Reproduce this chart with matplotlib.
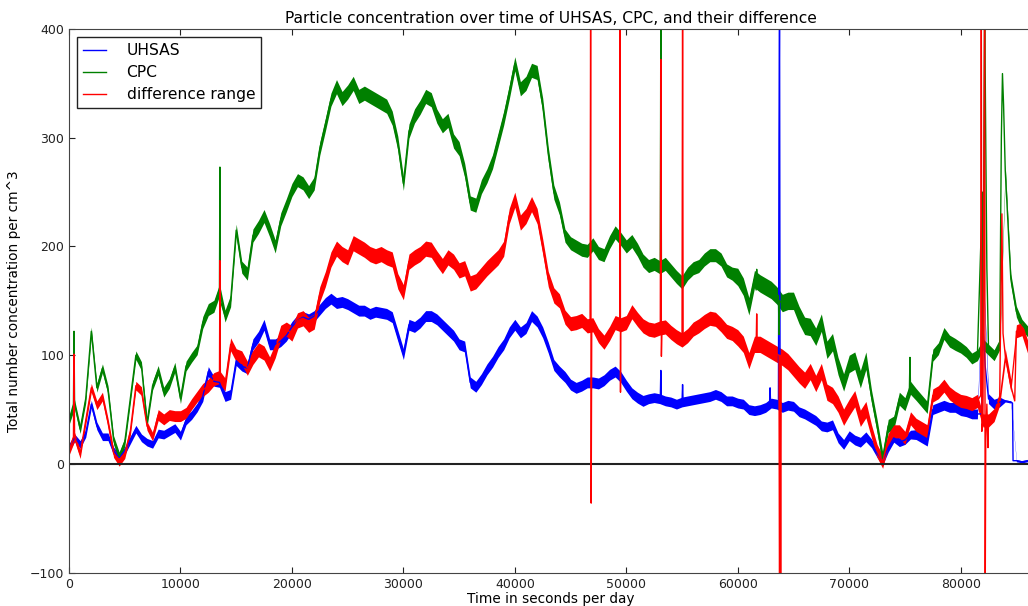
import numpy as np
import matplotlib
matplotlib.use("Agg")
import matplotlib.pyplot as plt

# 500 s sampling, 0 .. 86000 s
step = 500

uhsas = [15, 24, 18, 28, 55, 35, 25, 25, 12, 6,
         12, 22, 32, 24, 20, 18, 28, 27, 30, 33,
         26, 40, 45, 52, 62, 85, 76, 75, 62, 64,
         95, 90, 88, 110, 117, 128, 110, 110, 113, 118,
         126, 132, 135, 133, 136, 142, 148, 152, 148, 149,
         147, 144, 141, 141, 138, 140, 139, 138, 135, 118,
         101, 128, 126, 130, 136, 136, 133, 128, 123, 118,
         110, 108, 75, 71, 78, 87, 94, 103, 110, 121,
         128, 121, 125, 136, 131, 121, 107, 91, 85, 80,
         73, 70, 72, 75, 75, 74, 77, 82, 85, 80,
         72, 65, 61, 58, 60, 61, 60, 58, 57, 55,
         57, 58, 59, 60, 61, 62, 64, 62, 58, 58,
         56, 55, 50, 49, 50, 52, 56, 55, 52, 54,
         53, 48, 46, 43, 40, 35, 34, 36, 24, 18,
         26, 22, 20, 25, 19, 10, 3, 15, 24, 20,
         22, 27, 27, 24, 21, 50, 52, 54, 52, 52,
         49, 48, 46, 46, 180, 60, 55, 57, 58, 57,
         3, 2, 3]

cpc = [40, 55, 32, 60, 122, 70, 88, 68, 22, 7,
       20, 60, 100, 90, 38, 72, 86, 66, 74, 89,
       60, 90, 98, 105, 130, 142, 145, 160, 136, 150,
       215, 181, 175, 210, 218, 228, 215, 200, 225, 238,
       252, 261, 258, 250, 258, 290, 312, 335, 347, 336,
       342, 350, 338, 341, 338, 335, 332, 329, 318, 295,
       258, 306, 320, 328, 338, 335, 320, 311, 316, 297,
       290, 270, 240, 238, 255, 265, 278, 298, 318, 342,
       368, 345, 350, 362, 360, 330, 285, 250, 235, 210,
       203, 200, 197, 196, 202, 194, 192, 204, 213, 207,
       200, 205, 197, 187, 182, 184, 181, 184, 178, 172,
       167, 175, 180, 182, 188, 192, 192, 188, 178, 175,
       172, 163, 145, 170, 166, 163, 160, 155, 148, 150,
       150, 137, 127, 126, 117, 130, 105, 112, 90, 75,
       92, 95, 78, 95, 62, 35, 5, 35, 38, 60,
       55, 70, 64, 58, 52, 100, 106, 120, 113, 110,
       107, 103, 97, 100, 110, 105, 100, 110, 270, 170,
       140, 128, 122]

diff = [12, 25, 9, 40, 70, 54, 62, 38, 10, 2,
        9, 30, 72, 67, 35, 25, 45, 41, 45, 44,
        44, 47, 55, 62, 68, 72, 78, 80, 73, 110,
        100, 98, 88, 98, 105, 102, 92, 104, 121, 124,
        120, 132, 134, 128, 131, 156, 170, 188, 198, 193,
        190, 203, 200, 197, 193, 191, 193, 190, 188, 168,
        158, 186, 190, 193, 198, 197, 189, 182, 190, 186,
        178, 180, 166, 168, 174, 180, 185, 190, 198, 228,
        243, 222, 228, 239, 228, 200, 170, 155, 150, 135,
        129, 130, 132, 127, 128, 118, 112, 120, 130, 128,
        130, 140, 133, 127, 124, 123, 125, 126, 121, 117,
        114, 118, 124, 127, 131, 134, 133, 128, 122, 120,
        116, 110, 95, 110, 110, 107, 104, 101, 98, 94,
        88, 82, 77, 85, 74, 85, 66, 63, 55, 43,
        52, 60, 42, 50, 30, 12, 2, 22, 30, 30,
        24, 42, 36, 33, 30, 63, 66, 72, 65, 61,
        58, 57, 55, 58, 40, 40, 45, 60, 100, 72,
        122, 124, 108]

# short glitches in the record (time, value), with the level just around them
uhsas_spike_t = [53050, 53100, 53150, 55000, 55050, 55100, 62850, 62900, 62950,
                 63650, 63700, 63750, 63800, 81900, 81950, 82050, 82200, 84650, 84700]
uhsas_spike_v = [60, 86, 59, 57, 73, 57, 55, 70, 55,
                 55, 298, 430, 53, 46, 211, 120, 90, 56, 3]
cpc_spike_t = [400, 450, 13540, 13580, 53050, 53100, 53150, 61650, 61700, 61750,
               63650, 63700, 63750, 75400, 75450, 75550,
               81950, 82150, 82250, 82350, 83650, 83750, 83850]
cpc_spike_v = [55, 122, 273, 150, 182, 430, 183, 160, 179, 165,
               155, 119, 150, 68, 98, 66,
               250, 430, 297, 180, 300, 359, 330]
diff_spike_t = [400, 450, 13540, 13580, 46750, 46800, 46850, 46900,
                49420, 49450, 49480, 53050, 53100, 53150, 53200,
                55050, 55100, 61650, 61700, 61750,
                63700, 63750, 63800, 63850, 63900,
                81800, 81850, 81900, 82150, 82200, 82250, 82350, 82450,
                83700, 83800, 84850]
diff_spike_v = [25, 101, 187, 78, 128, 430, -36, 128,
                130, 430, 66, 125, 372, 99, 126,
                430, 115, 108, 138, 108,
                100, -150, 100, -150, 98,
                63, 430, 30, 430, -130, 20, 55, 15,
                230, 120, 58]

# half width of the 1 Hz noise band, per 4000 s block
uhsas_noise = [3.5, 3.5, 4, 4.5, 5, 5, 5, 5, 5, 5, 5, 5, 5, 4.5, 4.5, 4.5, 4.5, 4.5, 4, 4.5, 4.5, 1]
cpc_noise = [4, 4, 4.5, 5.5, 6, 6, 6.5, 6.5, 6.5, 6.5, 6.5, 6, 6, 6, 6, 8, 8, 8, 6, 5.5, 5, 5]
diff_noise = [4, 4, 5, 6, 6.5, 7, 7, 7, 7, 7, 7, 6.5, 6.5, 6.5, 6.5, 7.5, 7.5, 7.5, 6, 6, 6, 6]

labels = ["UHSAS", "CPC", "difference range"]
colors = ["b", "g", "r"]

t = np.arange(len(uhsas)) * step

fig = plt.figure(figsize=(10.28, 6.06), dpi=100)
ax = fig.add_axes([69 / 1028, 33.3 / 606, 963 / 1028, 543.7 / 606])
ax.axhline(0, color="#222222", lw=1.5)

series = [(uhsas, uhsas_noise, uhsas_spike_t, uhsas_spike_v),
          (cpc, cpc_noise, cpc_spike_t, cpc_spike_v),
          (diff, diff_noise, diff_spike_t, diff_spike_v)]
for (vals, noise, st, sv), lab, c in zip(series, labels, colors):
    vals = np.array(vals, dtype=float)
    n = np.repeat(noise, 8)[:len(vals)]
    ax.fill_between(t, vals - n, vals + n, color=c, lw=0)
    tt = np.concatenate([t, st])
    vv = np.concatenate([vals, sv])
    order = np.argsort(tt, kind="stable")
    ax.plot(tt[order], vv[order], color=c, lw=1, label=lab)

ax.set_xlim(0, 86400)
ax.set_ylim(-100, 400)
ax.set_yticks([-100, 0, 100, 200, 300, 400])
ax.tick_params(direction="in", top=True, right=False, length=4, labelsize=9,
               colors="#222222")
for s in ax.spines.values():
    s.set_color("#444444")
ax.set_title("Particle concentration over time of UHSAS, CPC, and their difference",
             fontsize=11.2, pad=4)
ax.set_xlabel("Time in seconds per day", fontsize=9.8, labelpad=1)
ax.set_ylabel("Total number concentration per cm^3", fontsize=9.8, labelpad=6)
leg = ax.legend(loc="upper left", fontsize=11.2, fancybox=False, framealpha=1,
                handlelength=1.5, handletextpad=1.3, labelspacing=0.45, borderpad=0.4)
leg.get_frame().set_edgecolor("#222222")

fig.savefig("out.png", dpi=100)
